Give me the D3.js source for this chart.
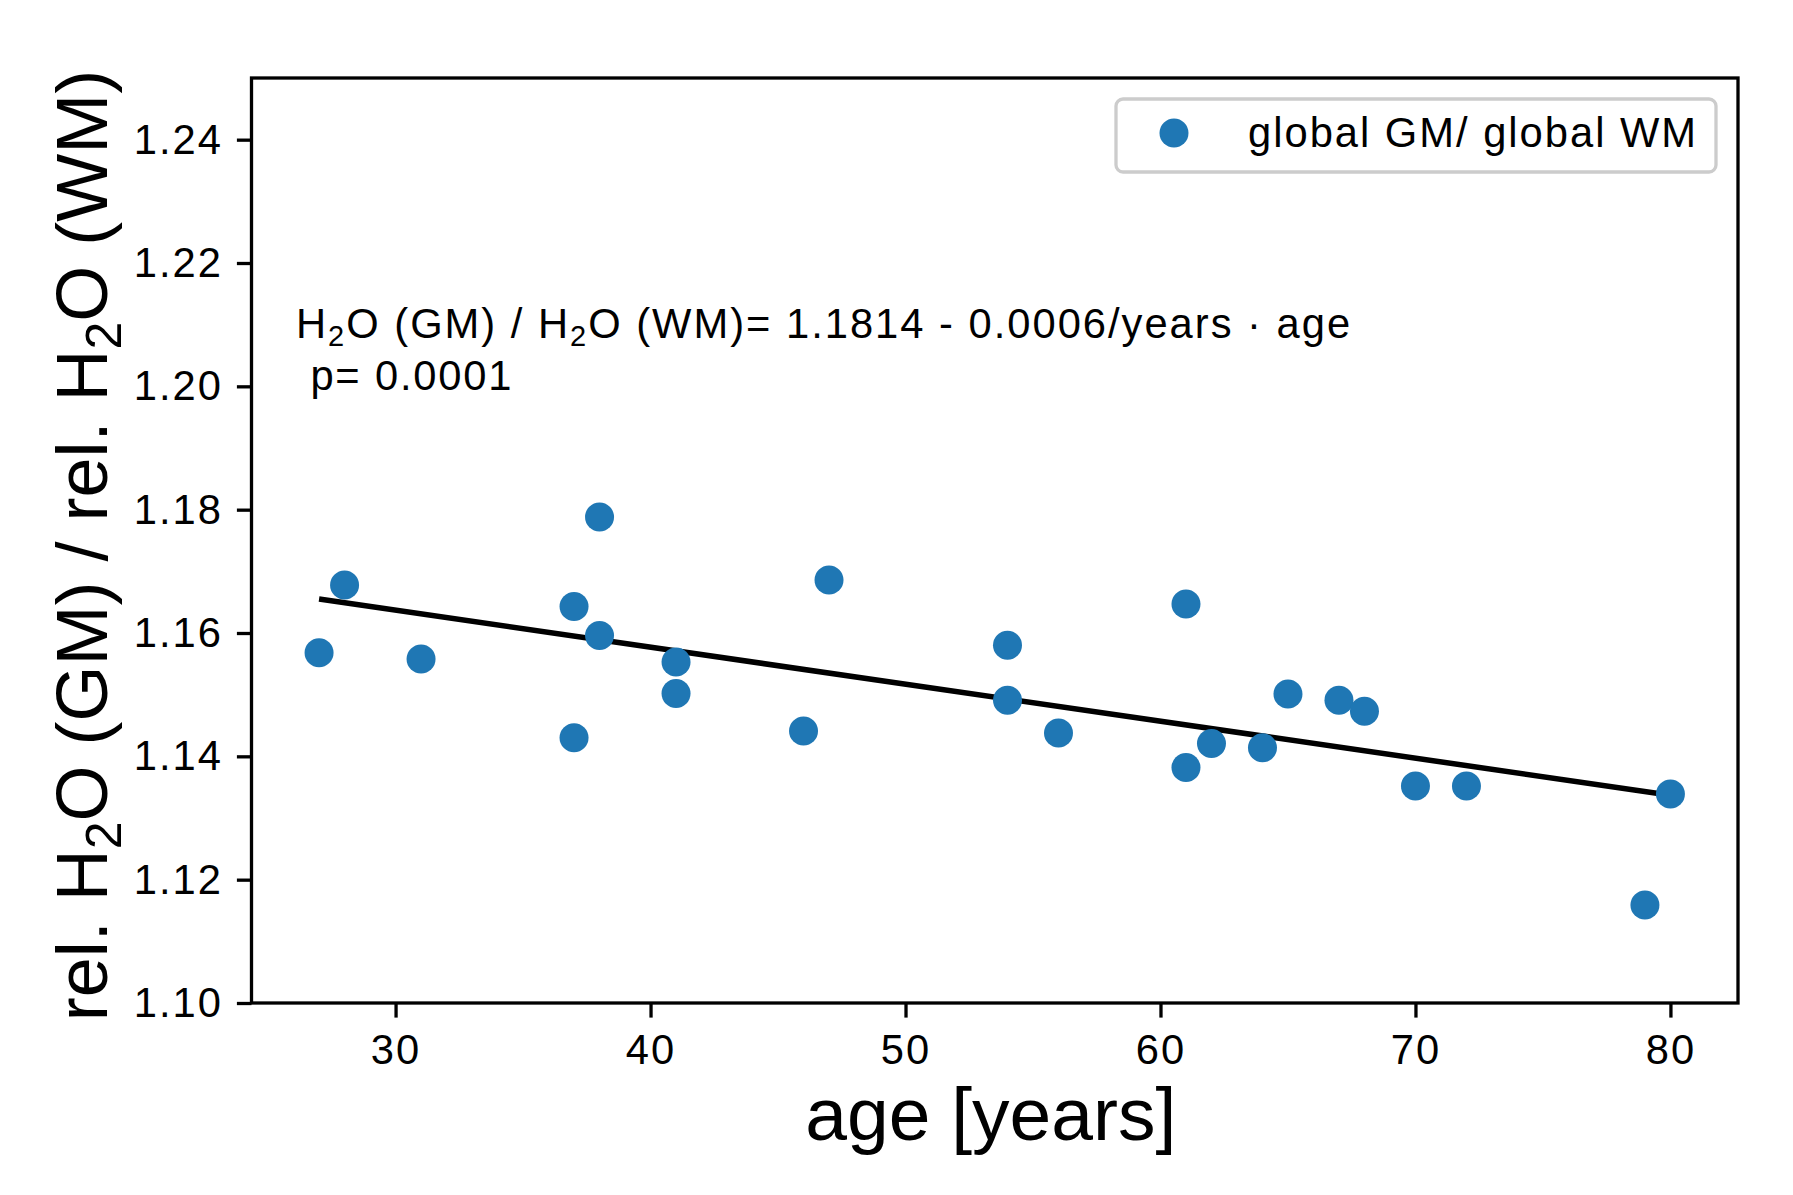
<!DOCTYPE html>
<html>
<head>
<meta charset="utf-8">
<script src="https://cdn.jsdelivr.net/npm/d3@7"></script>
<style>
  body { margin: 0; background: #fff; }
  text { font-family: "Liberation Sans", Arial, sans-serif; }
</style>
</head>
<body>
<div id="chart"></div>
<script>
// ages and GM/WM water ratio
var ages = [27, 28, 31, 37, 37, 38, 38, 41, 41, 46, 47, 54, 54, 56, 61, 61, 62, 64, 65, 67, 68, 70, 72, 79, 80];
var ratio = [1.1568, 1.1678, 1.1558, 1.1643, 1.1430, 1.1788, 1.1596, 1.1553, 1.1502, 1.1441, 1.1686, 1.1580, 1.1491, 1.1438, 1.1647, 1.1382, 1.1421, 1.1414, 1.1501, 1.1491, 1.1473, 1.1352, 1.1352, 1.1159, 1.1339];

// fitted line end points
var fitX = [27, 80];
var fitY = [1.1655, 1.1337];

var xTicks = [30, 40, 50, 60, 70, 80];
var yTicks = [1.10, 1.12, 1.14, 1.16, 1.18, 1.20, 1.22, 1.24];

var W = 1793, H = 1195;
var plotL = 251.5, plotR = 1738, plotT = 78, plotB = 1003;

var svg = d3.select("#chart")
  .append("svg")
    .attr("width", W)
    .attr("height", H);

var x = d3.scaleLinear().domain([24.35, 82.65]).range([plotL, plotR]);
var y = d3.scaleLinear().domain([1.10, 1.25]).range([plotB, plotT]);

// axes
var xAxis = svg.append("g")
	.attr("transform", "translate(0," + plotB + ")")
	.call(d3.axisBottom(x).tickValues(xTicks).tickSize(14.6).tickPadding(17));

var yAxis = svg.append("g")
	.attr("transform", "translate(" + plotL + ",0)")
	.call(d3.axisLeft(y).tickValues(yTicks).tickFormat(d3.format(".2f")).tickSize(14.6).tickPadding(14));

[xAxis, yAxis].forEach(function(g) {
	g.select(".domain").remove();
	g.selectAll(".tick line").attr("stroke", "#000").attr("stroke-width", 3.3);
	g.selectAll(".tick text")
		.attr("fill", "#000")
		.attr("font-size", 41.7)
		.attr("letter-spacing", 2)
		.style("font-family", "'Liberation Sans', Arial, sans-serif");
});
xAxis.selectAll(".tick text").attr("dy", "0.71em");

// regression line
svg.append("line")
	.attr("x1", x(fitX[0]))
	.attr("y1", y(fitY[0]))
	.attr("x2", x(fitX[1]))
	.attr("y2", y(fitY[1]))
	.attr("stroke", "#000")
	.attr("stroke-width", 5.5);

// points
svg.selectAll("circle.pt")
	.data(ages)
	.enter()
	.append("circle")
	.attr("class", "pt")
	.attr("cx", function(d) { return x(d); })
	.attr("cy", function(d, i) { return y(ratio[i]); })
	.attr("r", 14.5)
	.style("fill", "#1f77b4");

// frame
svg.append("rect")
	.attr("x", plotL)
	.attr("y", plotT)
	.attr("width", plotR - plotL)
	.attr("height", plotB - plotT)
	.attr("fill", "none")
	.attr("stroke", "#000")
	.attr("stroke-width", 3.3);

// equation annotation
var eq = svg.append("text")
	.attr("x", 296)
	.attr("y", 338)
	.attr("font-size", 41.7)
	.attr("letter-spacing", 2.0)
	.attr("fill", "#000");
eq.append("tspan").text("H");
eq.append("tspan").attr("font-size", 29).attr("dy", 8).text("2");
eq.append("tspan").attr("dy", -8).text("O (GM) / H");
eq.append("tspan").attr("font-size", 29).attr("dy", 8).text("2");
eq.append("tspan").attr("dy", -8).text("O (WM)= 1.1814 - 0.0006/years \u00b7 age");

svg.append("text")
	.attr("x", 297)
	.attr("y", 390)
	.attr("font-size", 41.7)
	.attr("letter-spacing", 1.8)
	.attr("fill", "#000")
	.text("\u00a0p= 0.0001");

// legend
svg.append("rect")
	.attr("x", 1116)
	.attr("y", 99)
	.attr("width", 600)
	.attr("height", 73)
	.attr("rx", 7)
	.attr("ry", 7)
	.attr("fill", "#fff")
	.attr("stroke", "#cccccc")
	.attr("stroke-width", 3.3);

svg.append("circle")
	.attr("cx", 1174)
	.attr("cy", 133)
	.attr("r", 14.5)
	.style("fill", "#1f77b4");

svg.append("text")
	.attr("x", 1248)
	.attr("y", 147)
	.attr("font-size", 41.7)
	.attr("letter-spacing", 2.0)
	.attr("fill", "#000")
	.text("global GM/ global WM");

// axis labels
svg.append("text")
	.attr("x", (plotL + plotR) / 2 - 4)
	.attr("y", 1140)
	.attr("text-anchor", "middle")
	.attr("font-size", 75)
	.attr("fill", "#000")
	.text("age [years]");

var yl = svg.append("text")
	.attr("transform", "translate(107," + ((plotT + plotB) / 2 + 5) + ") rotate(-90)")
	.attr("text-anchor", "middle")
	.attr("font-size", 72)
	.attr("fill", "#000");
yl.append("tspan").text("rel. H");
yl.append("tspan").attr("font-size", 50).attr("dy", 14).text("2");
yl.append("tspan").attr("dy", -14).text("O (GM) / rel. H");
yl.append("tspan").attr("font-size", 50).attr("dy", 14).text("2");
yl.append("tspan").attr("dy", -14).text("O (WM)");
</script>
</body>
</html>
